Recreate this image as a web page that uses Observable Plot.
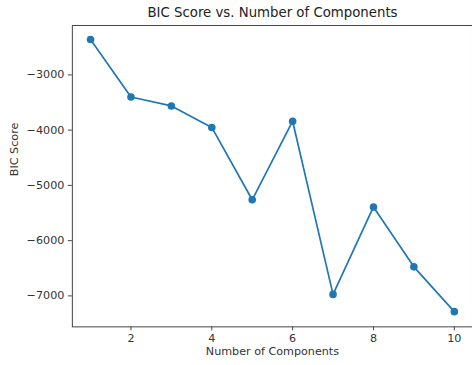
<!DOCTYPE html>
<html>
<head>
<meta charset="utf-8">
<script src="https://cdn.jsdelivr.net/npm/d3@7"></script>
<script src="https://cdn.jsdelivr.net/npm/@observablehq/plot@0.6"></script>
<style>
  html, body { margin: 0; padding: 0; background: #fff; overflow: hidden; }
  #title {
    font-family: "DejaVu Sans", sans-serif;
    font-size: 13.3px;
    color: #222;
    height: 25px;
    line-height: 26px;
    padding-left: 72px;
    width: 401px;
    text-align: center;
    white-space: nowrap;
  }
</style>
</head>
<body>
<div id="title">BIC Score vs. Number of Components</div>
<div id="chart"></div>
<script>
// Number of mixture components tried, and the BIC score for each fit
const components = [1, 2, 3, 4, 5, 6, 7, 8, 9, 10];
const bicScores = [-2360, -3400, -3562, -3951, -5260, -3838, -6973, -5390, -6474, -7285];
const xTicks = [2, 4, 6, 8, 10];
const yTicks = [-3000, -4000, -5000, -6000, -7000];

const data = components.map((k, i) => ({k, bic: bicScores[i]}));
const blue = "#1f77b4";
const ink = "#333";
const fmt = d => (d < 0 ? "\u2212" : "") + Math.abs(d);

const chart = Plot.plot({
  width: 473,
  height: 340,
  marginTop: 0,
  marginLeft: 72,
  marginRight: 0,
  marginBottom: 38,
  style: {fontFamily: "DejaVu Sans, sans-serif", fontSize: "11.2px", color: ink, background: "#fff"},
  x: {domain: [0.55, 10.45]},
  y: {domain: [-7560, -2106]},
  marks: [
    Plot.frame({stroke: "#444", strokeWidth: 1}),
    Plot.axisX(xTicks, {tickSize: 4, tickPadding: 3, tickFormat: d => String(d), label: null, stroke: "#444", fill: ink}),
    Plot.axisY(yTicks, {tickSize: 4, tickPadding: 4, tickFormat: fmt, label: null, stroke: "#444", fill: ink}),
    Plot.text(["Number of Components"], {frameAnchor: "bottom", dy: 28, text: d => d, fill: ink}),
    Plot.text(["BIC Score"], {frameAnchor: "left", dx: -58, rotate: -90, text: d => d, fill: ink}),
    Plot.line(data, {x: "k", y: "bic", stroke: blue, strokeWidth: 1.7}),
    Plot.dot(data, {x: "k", y: "bic", r: 3.8, fill: blue, stroke: "none"})
  ]
});
document.getElementById("chart").appendChild(chart);
</script>
</body>
</html>
